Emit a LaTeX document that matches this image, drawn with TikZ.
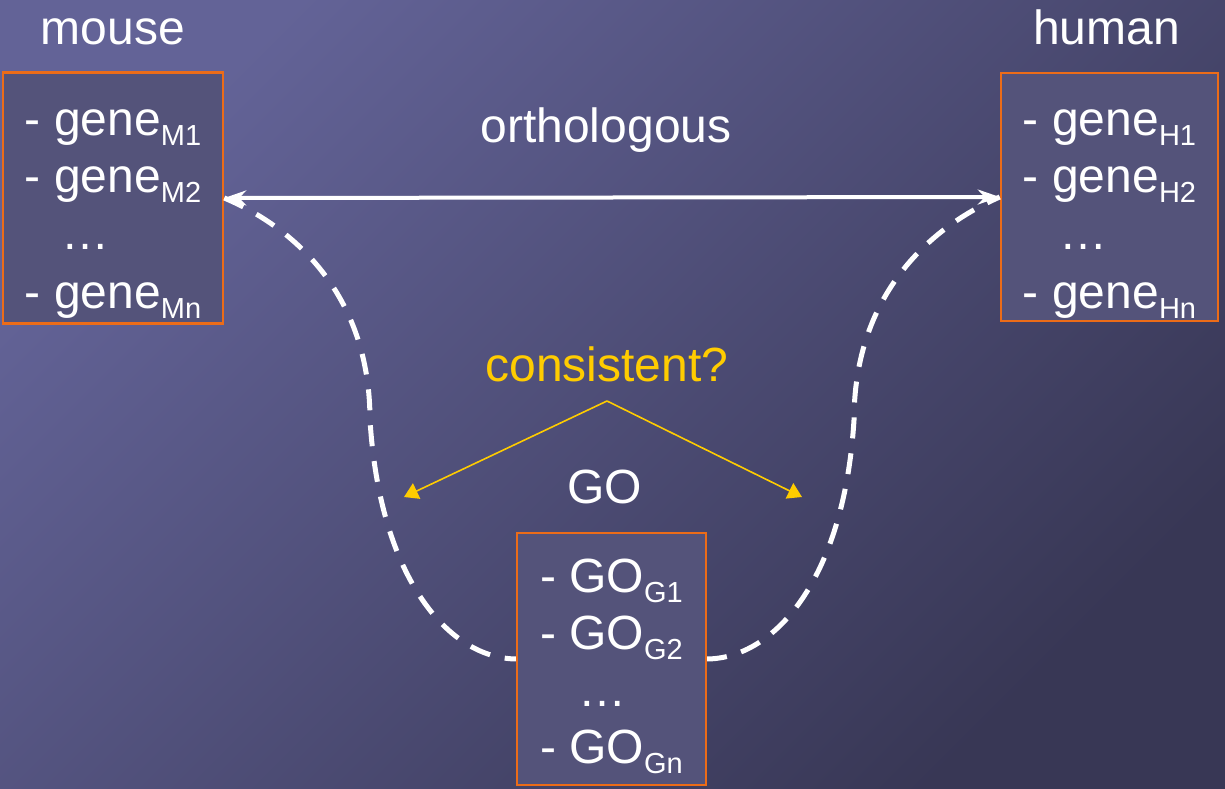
\documentclass[tikz,border=0pt]{standalone}
\usepackage{fontspec}
\setmainfont{Liberation Sans}
\usepackage{tikz}
\usetikzlibrary{positioning,calc,arrows.meta}

\definecolor{bgtop}{RGB}{99,99,151}
\definecolor{bgbot}{RGB}{56,55,85}
\definecolor{boxfill}{RGB}{84,83,122}
\definecolor{boxline}{RGB}{236,108,24}
\definecolor{askyellow}{RGB}{255,204,0}

\newcommand{\lowsub}[1]{\raisebox{-10pt}{\fontsize{29}{29}\selectfont #1}}

\begin{document}
\begin{tikzpicture}[
    x=1pt, y=-1pt,
    font=\fontsize{48}{57}\selectfont,
    lbl/.style={text=white, inner sep=0pt, anchor=base},
    box/.style={draw=boxline, line width=2.5pt, fill=boxfill, text=white,
                align=left, inner sep=0pt},
    ortho/.style={white, line width=4pt,
                  {Stealth[length=22pt,width=15pt]}-{Stealth[length=22pt,width=15pt]}},
    dashcurve/.style={white, line width=5pt, dash pattern=on 21pt off 15pt},
    ask/.style={askyellow, line width=1.6pt, -{Triangle[length=14pt,width=17pt]}},
  ]
  % ---------------------------------------------------------------
  % background
  % ---------------------------------------------------------------
  \useasboundingbox (0,0) rectangle (1225,789);
  \shade[top color=bgtop, bottom color=bgbot, shading angle=45]
    (0,0) rectangle (1225,789);

  % ---------------------------------------------------------------
  % gene lists
  % ---------------------------------------------------------------
  \node[box, minimum width=220pt] (mouse) at (113,198)
    {\rule{0pt}{63pt}- gene\lowsub{M1}\\
     - gene\lowsub{M2}\\
     \hspace*{37pt}…\\[2pt]
     - gene\lowsub{Mn}\rule[-15pt]{0pt}{15pt}};
  \node[box, minimum width=217pt] (human) at (1109.5,197)
    {\rule{0pt}{62pt}- gene\lowsub{H1}\\
     - gene\lowsub{H2}\\
     \hspace*{37pt}…\\[2pt]
     - gene\lowsub{Hn}\rule[-13pt]{0pt}{13pt}};

  \node[lbl] (mouselbl) at ($(mouse.north)+(0,-27)$) {mouse};
  \node[lbl] (humanlbl) at ($(human.north)+(-3,-27)$) {human};

  \draw[ortho] (mouse.east) -- (human.west);
  \node[lbl] (ortholbl) at ($(mouse.east)!0.5!(human.west)+(-6,-55)$) {orthologous};

  % ---------------------------------------------------------------
  % GO terms, with the dashed links running into it
  % ---------------------------------------------------------------
  \coordinate (lbend) at (370,420);
  \coordinate (rbend) at (854,420);
  \draw[dashcurve] (mouse.east) .. controls (300,230) and (370,300) .. (lbend)
    .. controls (380,580) and (450,659) .. (517,659);
  \draw[dashcurve] (706,659) .. controls (774,659) and (844,580) .. (rbend)
    .. controls (854,300) and (924,230) .. (human.west);

  \node[box, minimum width=189pt] (go) at (611.5,659)
    {\rule{0pt}{59pt}- GO\lowsub{G1}\\
     - GO\lowsub{G2}\\
     \hspace*{38pt}…\\
     - GO\lowsub{Gn}\rule[-22pt]{0pt}{22pt}};
  \node[lbl] (golbl) at ($(go.north)+(-7,-28)$) {GO};

  % ---------------------------------------------------------------
  % the question
  % ---------------------------------------------------------------
  \node[lbl, text=askyellow] (cons) at (607,381) {consistent?};
  \coordinate (split) at ($(cons.base)+(0,20)$);
  \coordinate (askL) at (404,497);
  \coordinate (askR) at (802,497);
  \draw[ask] (split) -- (askL);
  \draw[ask] (split) -- (askR);
\end{tikzpicture}
\end{document}
